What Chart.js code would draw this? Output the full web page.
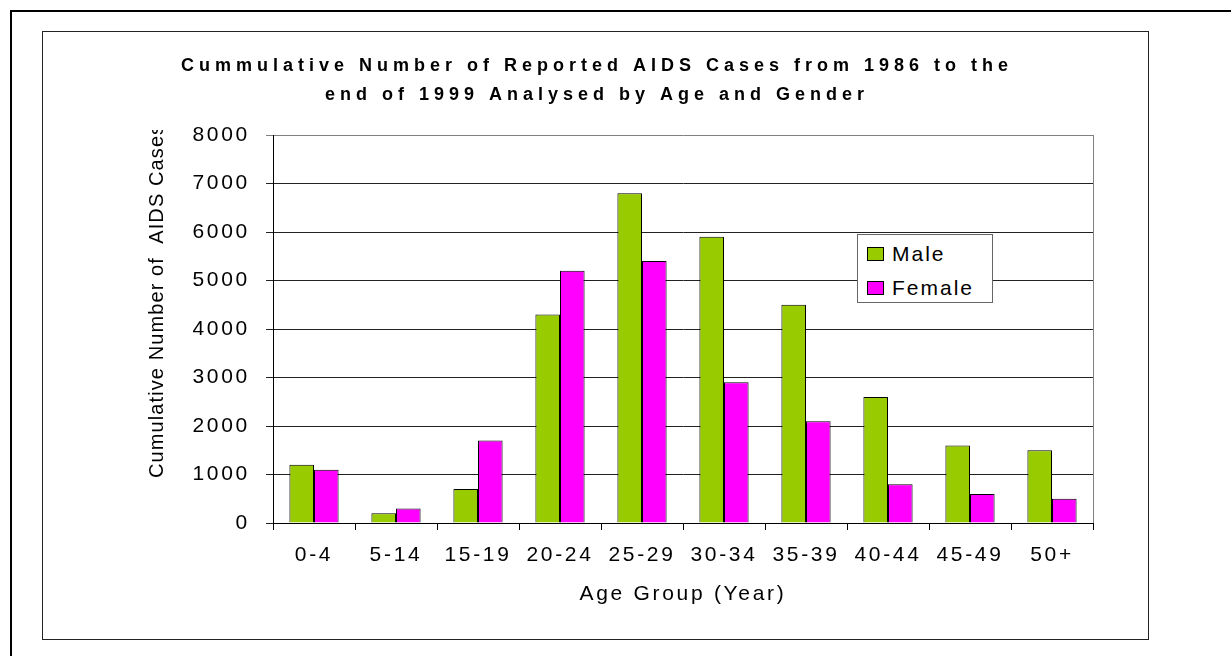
<!DOCTYPE html>
<html>
<head>
<meta charset="utf-8">
<script src="https://cdn.jsdelivr.net/npm/chart.js@4/dist/chart.umd.min.js"></script>
<style>
    body { margin: 0; background: #fff; overflow: hidden; width: 1231px; height: 656px; position: relative; }
    #outer { position: absolute; left: 10px; top: 10px; width: 1300px; height: 700px; border: 2px solid #000; }
    #inner { position: absolute; left: 42px; top: 31px; width: 1105px; height: 607px; border: 1px solid #222; }
    #chart { position: absolute; left: 43px; top: 32px; }
    #legend {
        position: absolute; left: 857px; top: 234px; width: 134px; height: 67px;
        border: 1px solid #666; background: #fff;
        font-family: "Liberation Sans", Arial, sans-serif; font-size: 21px; letter-spacing: 2px; color: #000;
    }
    .item { position: absolute; left: 9px; height: 14px; line-height: 14px; white-space: nowrap; }
    .swatch { display: inline-block; width: 17px; height: 14px; border: 1px solid #000; box-sizing: border-box; vertical-align: top; margin-right: 8px; }
</style>
</head>
<body>
<div id="outer"></div>
<div id="inner"></div>
<canvas id="chart" width="1104" height="606"></canvas>
<div id="legend"></div>
<script>
const ageGroups = ['0-4', '5-14', '15-19', '20-24', '25-29', '30-34', '35-39', '40-44', '45-49', '50+'];
const maleCases = [1200, 200, 700, 4300, 6800, 5900, 4500, 2600, 1600, 1500];
const femaleCases = [1100, 300, 1700, 5200, 5400, 2900, 2100, 800, 600, 500];
const seriesNames = ['Male', 'Female'];
const seriesColors = ['#99CC00', '#FF00FF'];
const yMax = 8000;
const yStep = 1000;
const titleLines = ['Cummulative Number of Reported AIDS Cases from 1986 to the', 'end of 1999 Analysed by Age and Gender'];
const yTitle = 'Cumulative Number of  AIDS Cases';
const xTitle = 'Age Group (Year)';

const fontFamily = '"Liberation Sans", Arial, sans-serif';

// title and clipped y axis title, drawn on top of the chart
const textPlugin = {
    id: 'texts',
    beforeDraw(chart) {
        chart.ctx.letterSpacing = '2.7px';
    },
    beforeDatasetsDraw(chart) {
        const { ctx, chartArea } = chart;
        ctx.save();
        ctx.strokeStyle = '#808080';
        ctx.lineWidth = 1;
        ctx.beginPath();
        ctx.moveTo(chartArea.right + 0.5, chartArea.top);
        ctx.lineTo(chartArea.right + 0.5, chartArea.bottom);
        ctx.stroke();
        ctx.restore();
    },
    afterDraw(chart) {
        const ctx = chart.ctx;
        ctx.save();
        ctx.fillStyle = '#000';
        ctx.font = 'bold 18px ' + fontFamily;
        ctx.letterSpacing = '5px';
        ctx.textAlign = 'center';
        ctx.textBaseline = 'middle';
        titleLines.forEach((line, i) => {
            ctx.fillText(line, 554, 34 + i * 29);
        });
        ctx.restore();

        ctx.save();
        ctx.beginPath();
        ctx.rect(0, 98, 228, 500);
        ctx.clip();
        ctx.translate(114, 446);
        ctx.rotate(-Math.PI / 2);
        ctx.fillStyle = '#000';
        ctx.font = '20px ' + fontFamily;
        ctx.letterSpacing = '1.1px';
        ctx.textAlign = 'left';
        ctx.textBaseline = 'middle';
        ctx.fillText(yTitle, 0, 0);
        ctx.restore();
    }
};

const chart = new Chart(document.getElementById('chart'), {
    type: 'bar',
    data: {
        labels: ageGroups,
        datasets: [{
            label: seriesNames[0],
            data: maleCases,
            backgroundColor: seriesColors[0],
            borderColor: '#000',
            borderWidth: 1,
            categoryPercentage: 0.6,
            barPercentage: 1.0
        }, {
            label: seriesNames[1],
            data: femaleCases,
            backgroundColor: seriesColors[1],
            borderColor: '#000',
            borderWidth: 1,
            categoryPercentage: 0.6,
            barPercentage: 1.0
        }]
    },
    options: {
        responsive: false,
        animation: false,
        devicePixelRatio: 1,
        layout: {
            padding: { left: 0, right: 54, top: 103, bottom: 15 }
        },
        plugins: {
            legend: { display: false },
            title: { display: false },
            tooltip: { enabled: false }
        },
        scales: {
            x: {
                afterFit: (scale) => { scale.height = 100; },
                grid: {
                    display: true,
                    drawOnChartArea: false,
                    drawTicks: true,
                    tickLength: 7,
                    color: '#000',
                    offset: true
                },
                border: { display: true, color: '#000', width: 1 },
                ticks: {
                    color: '#000',
                    font: { family: fontFamily, size: 21 },
                    padding: 13,
                    maxRotation: 0,
                    autoSkip: false
                },
                title: {
                    display: true,
                    text: xTitle,
                    color: '#000',
                    font: { family: fontFamily, size: 21 },
                    padding: { top: 0, bottom: 16 }
                }
            },
            y: {
                min: 0,
                max: yMax,
                afterFit: (scale) => { scale.width = 230; },
                grid: {
                    color: (c) => (c.tick && c.tick.value === yMax ? '#808080' : '#222'),
                    tickLength: 7,
                    lineWidth: 1
                },
                border: { display: true, color: '#000', width: 1 },
                ticks: {
                    stepSize: yStep,
                    color: '#000',
                    font: { family: fontFamily, size: 21 },
                    padding: 16,
                    callback: (value) => String(value)
                }
            }
        }
    },
    plugins: [textPlugin]
});

// legend box inside the plot, built from the datasets
const legendBox = document.getElementById('legend');
chart.data.datasets.forEach((ds, i) => {
    const item = document.createElement('div');
    item.className = 'item';
    item.style.top = (12 + i * 34) + 'px';
    const swatch = document.createElement('span');
    swatch.className = 'swatch';
    swatch.style.background = ds.backgroundColor;
    item.appendChild(swatch);
    item.appendChild(document.createTextNode(ds.label));
    legendBox.appendChild(item);
});
</script>
</body>
</html>
